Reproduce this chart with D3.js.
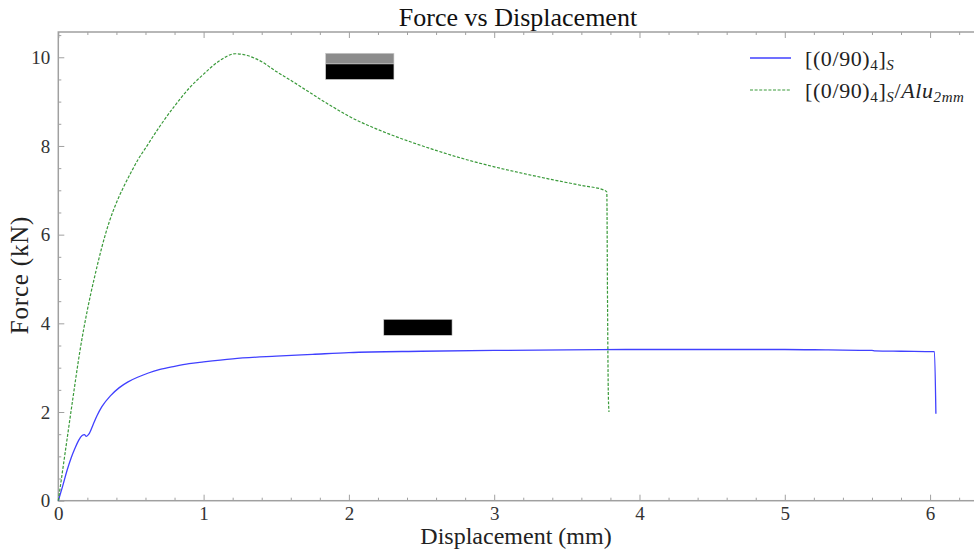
<!DOCTYPE html>
<html>
<head>
<meta charset="utf-8">
<script src="https://cdn.jsdelivr.net/npm/d3@7"></script>
<style>
  body { margin: 0; background: #fff; }
  svg { display: block; }
  text { font-family: "Liberation Serif", "DejaVu Serif", serif; }
</style>
</head>
<body>
<svg id="chart" width="974" height="549"></svg>
<script>
// [(0/90)4]S  - plain laminate
var plainX = [0, 0.03, 0.06, 0.09, 0.117, 0.14, 0.164, 0.18, 0.193, 0.21, 0.24, 0.267, 0.3, 0.36, 0.42, 0.48, 0.55, 0.62, 0.7, 0.8, 0.9, 1.0, 1.2, 1.5, 1.75, 2.0, 2.5, 3.0, 3.5, 4.0, 4.5, 5.0, 5.3, 5.6, 5.62, 5.8, 6.03, 6.04];
var plainY = [0, 0.33, 0.68, 0.98, 1.2, 1.36, 1.47, 1.49, 1.45, 1.5, 1.72, 1.92, 2.12, 2.37, 2.55, 2.68, 2.79, 2.88, 2.96, 3.03, 3.09, 3.13, 3.2, 3.26, 3.30, 3.34, 3.37, 3.39, 3.40, 3.41, 3.41, 3.41, 3.40, 3.39, 3.38, 3.37, 3.36, 1.96];

// [(0/90)4]S / Alu 2mm
var aluX = [0, 0.05, 0.1, 0.15, 0.2, 0.25, 0.3, 0.35, 0.4, 0.45, 0.5, 0.55, 0.6, 0.7, 0.8, 0.9, 1.0, 1.1, 1.22, 1.3, 1.4, 1.5, 1.6, 1.7, 1.8, 1.9, 2.0, 2.2, 2.4, 2.6, 2.8, 3.0, 3.2, 3.4, 3.6, 3.76, 3.775, 3.78, 3.785, 3.79];
var aluY = [0, 1.15, 2.3, 3.4, 4.3, 5.05, 5.72, 6.28, 6.72, 7.08, 7.4, 7.7, 7.95, 8.45, 8.9, 9.3, 9.62, 9.9, 10.08, 10.04, 9.9, 9.68, 9.48, 9.27, 9.06, 8.86, 8.67, 8.37, 8.12, 7.9, 7.7, 7.53, 7.38, 7.24, 7.11, 7.0, 6.96, 4.5, 2.5, 2.0];

var xTicks = [0, 1, 2, 3, 4, 5, 6];
var yTicks = [0, 2, 4, 6, 8, 10];

// redaction boxes sitting on the figure (data coords: x0, x1, y0, y1, fill)
var boxes = [
  [1.84, 2.31, 9.85, 10.09, "#8c8c8c"],
  [1.84, 2.31, 9.50, 9.85, "#000"],
  [2.24, 2.71, 3.73, 4.09, "#000"]
];

function draw() {
  var svg = d3.select("#chart");
  var mLeft = 58.3, mRight = 976, mTop = 32, mBottom = 500.7;

  var x = d3.scaleLinear().domain([0, 6.316]).range([mLeft, mRight]);
  var y = d3.scaleLinear().domain([0, 10.57]).range([mBottom, mTop]);

  var axisColor = "#a0a0a0";

  // frame
  svg.append("rect")
    .attr("x", mLeft).attr("y", mTop)
    .attr("width", mRight - mLeft).attr("height", mBottom - mTop)
    .attr("fill", "none").attr("stroke", axisColor).attr("stroke-width", 1.5);

  // inward minor ticks
  function minorTicks(axisFn, scale, major, minor, transform) {
    var vals = d3.range(0, scale.domain()[1], minor).filter(function(v) {
      return Math.abs(v / major - Math.round(v / major)) > 1e-6;
    });
    svg.append("g").attr("transform", transform)
      .call(axisFn(scale).tickValues(vals).tickSize(-3).tickFormat(""))
      .call(function(g) { g.select(".domain").remove(); g.selectAll("line").attr("stroke", axisColor); });
  }

  minorTicks(d3.axisBottom, x, 1, 0.2, "translate(0," + mBottom + ")");
  minorTicks(d3.axisTop, x, 1, 0.2, "translate(0," + mTop + ")");
  minorTicks(d3.axisLeft, y, 2, 0.5, "translate(" + mLeft + ",0)");

  function styleMajor(g) {
    g.select(".domain").remove();
    g.selectAll("line").attr("stroke", axisColor);
    g.selectAll("text").attr("font-size", 19).attr("fill", "#333")
      .style("font-family", "Liberation Serif");
  }

  svg.append("g").attr("transform", "translate(0," + mBottom + ")")
    .call(d3.axisBottom(x).tickValues(xTicks).tickSize(-6).tickPadding(6).tickFormat(d3.format("d")))
    .call(styleMajor);
  svg.append("g").attr("transform", "translate(0," + mTop + ")")
    .call(d3.axisTop(x).tickValues(xTicks).tickSize(-6).tickFormat(""))
    .call(styleMajor);
  svg.append("g").attr("transform", "translate(" + mLeft + ",0)")
    .call(d3.axisLeft(y).tickValues(yTicks).tickSize(-6).tickPadding(8).tickFormat(d3.format("d")))
    .call(styleMajor);

  // curves
  var line = d3.line()
    .x(function(d) { return x(d[0]); })
    .y(function(d) { return y(d[1]); })
    .curve(d3.curveMonotoneX);

  svg.append("path")
    .datum(d3.zip(plainX, plainY))
    .attr("d", line)
    .attr("fill", "none").attr("stroke", "#4040ff").attr("stroke-width", 1.3);

  svg.append("path")
    .datum(d3.zip(aluX, aluY))
    .attr("d", line)
    .attr("fill", "none").attr("stroke", "#3a9a3a").attr("stroke-width", 1.2)
    .attr("stroke-dasharray", "3,1.6");

  // boxes
  svg.selectAll(".box")
    .data(boxes)
    .enter()
    .append("rect")
    .attr("class", "box")
    .attr("x", function(d) { return x(d[0]); })
    .attr("width", function(d) { return x(d[1]) - x(d[0]); })
    .attr("y", function(d) { return y(d[3]); })
    .attr("height", function(d) { return y(d[2]) - y(d[3]); })
    .attr("fill", function(d) { return d[4]; })
    .attr("stroke", "#ccc").attr("stroke-width", 0.6);

  // legend
  var lg = svg.append("g");
  lg.append("line").attr("x1", 750).attr("x2", 791).attr("y1", 58).attr("y2", 58)
    .attr("stroke", "#4040ff").attr("stroke-width", 1.3);
  lg.append("line").attr("x1", 750).attr("x2", 791).attr("y1", 90).attr("y2", 90)
    .attr("stroke", "#3a9a3a").attr("stroke-width", 1.2).attr("stroke-dasharray", "3,1.6");

  function legendLabel(yPos, withAlu) {
    var t = lg.append("text").attr("x", 805).attr("y", yPos).attr("font-size", 22)
      .attr("fill", "#222").attr("letter-spacing", 0.6);
    t.append("tspan").text("[(0/90)");
    t.append("tspan").attr("font-size", 15).attr("dy", 4).text("4");
    t.append("tspan").attr("dy", -4).text("]");
    t.append("tspan").attr("font-size", 15).attr("dy", 4).attr("font-style", "italic").text("S");
    if (withAlu) {
      t.append("tspan").attr("dy", -4).text("/");
      t.append("tspan").attr("font-style", "italic").text("Alu");
      t.append("tspan").attr("font-size", 15).attr("dy", 4).attr("font-style", "italic").text("2mm");
    }
  }
  legendLabel(66, false);
  legendLabel(98, true);

  // titles
  svg.append("text").attr("x", 518).attr("y", 26).attr("text-anchor", "middle")
    .attr("font-size", 26).attr("fill", "#111").text("Force vs Displacement");
  svg.append("text").attr("x", 516).attr("y", 544).attr("text-anchor", "middle")
    .attr("font-size", 24).attr("fill", "#222").text("Displacement (mm)");
  svg.append("text").attr("transform", "translate(28,275) rotate(-90)").attr("text-anchor", "middle")
    .attr("font-size", 25).attr("fill", "#222").attr("letter-spacing", 0.8).text("Force (kN)");
}

window.addEventListener("load", function() {
  draw();
});
</script>
</body>
</html>
